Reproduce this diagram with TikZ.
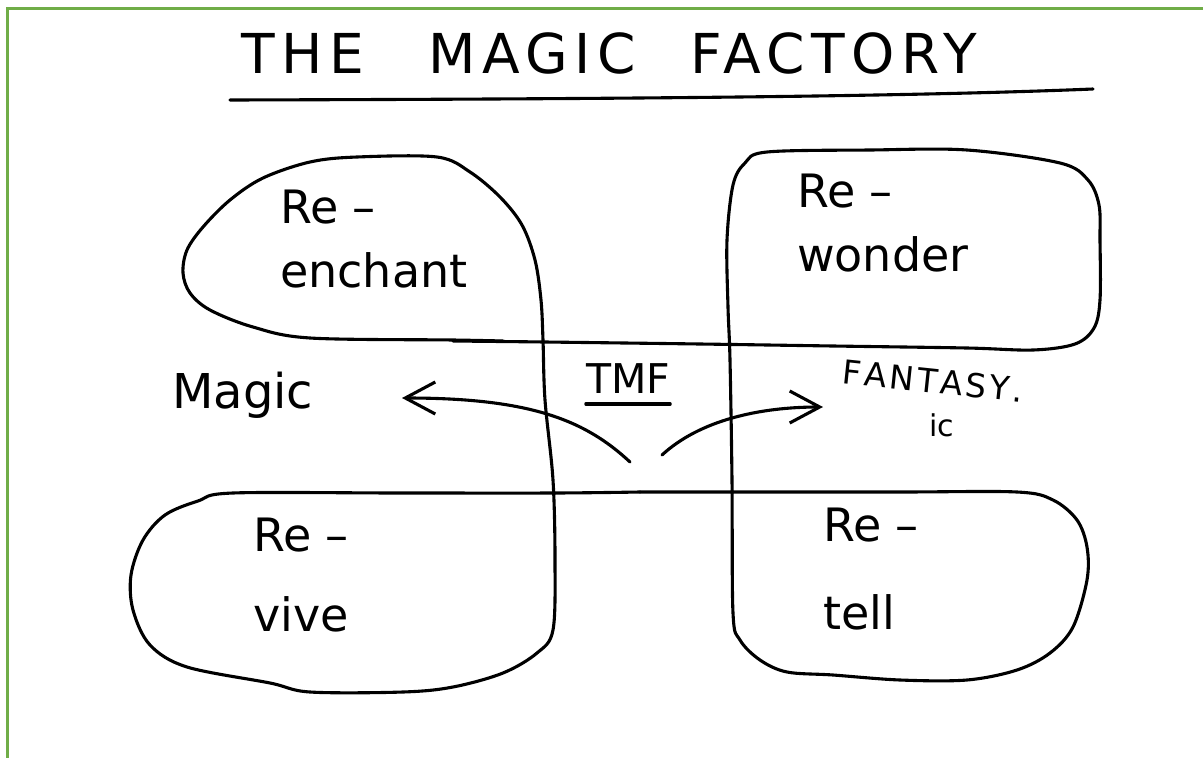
\documentclass[tikz,border=0pt]{standalone}
\usepackage{fontspec}
\setmainfont{DejaVu Sans}
\usetikzlibrary{arrows.meta}
\definecolor{framegreen}{RGB}{112,173,71}

\begin{document}
\begin{tikzpicture}[x=1pt,y=-1pt,
  ink/.style={line width=3.1pt, line join=round, line cap=round},
  arr/.style={ink, -{Straight Barb[length=30pt,width=32pt]}},
  lbl/.style={inner sep=0pt, anchor=north west, align=left, font=\fontsize{46}{64}\selectfont}]
\useasboundingbox (0,0) rectangle (1203,758);
\draw [line width=3pt, framegreen] (7,758) -- (7,8) -- (1203,8);

% title
\node [inner sep=0pt, anchor=base, font=\fontsize{55}{60}\selectfont\addfontfeatures{LetterSpace=12}] (title) at (609,73) {THE\hspace{40pt} MAGIC\hspace{30pt} FACTORY};
\draw [ink] (230,100) .. controls (600,99) and (900,97) .. (1093,89);

% left half: Re-vive, the middle stroke, Re-enchant
\draw [ink] plot [smooth, tension=0.55] coordinates {(640,492) (555,493) (400,493) (233,493) (198,501) (165,515) (143,540) (131,575) (133,610) (150,645) (187,667) (270,683) (310,692) (403,692) (453,687) (503,673) (537,653) (553,630) (555,560) (553,480) (545,400) (543,340) (541,300) (535,260) (522,225) (500,197) (470,172) (437,157) (357,157) (310,162) (263,178) (230,200) (203,227) (187,250) (183,273) (190,293) (210,310) (253,327) (310,338) (453,340) (503,341)};
% right half: Re-tell, the middle stroke, Re-wonder
\draw [ink] plot [smooth, tension=0.55] coordinates {(640,492) (733,492) (900,492) (1017,492) (1053,500) (1077,520) (1087,547) (1087,580) (1073,627) (1050,653) (1017,670) (967,680) (900,680) (833,675) (787,672) (760,660) (740,640) (733,613) (732,480) (730,360) (728,307) (727,240) (733,185) (745,163) (767,152) (870,150) (967,150) (1060,163) (1088,180) (1099,205) (1100,240) (1100,300) (1094,328) (1075,344) (1033,350) (967,348) (833,346) (700,344) (545,342) (453,341)};

\node [lbl] (enchant) at (280,190) {Re –\\enchant};
\node [lbl] (wonder) at (797,174) {Re –\\wonder};
\node [lbl] (vive) at (253,518) {Re –\\[16pt]vive};
\node [lbl] (tell) at (823,508) {Re –\\[24pt]tell};

% middle row
\node [inner sep=0pt, anchor=base west, font=\fontsize{48}{50}\selectfont] (magic) at (172,408) {Magic};
\node [inner sep=0pt, anchor=base, font=\fontsize{41}{44}\selectfont] (tmf) at (628,393) {TMF};
\draw [ink] ([yshift=-11pt]tmf.base west) -- ([yshift=-11pt]tmf.base east);
\node [inner sep=0pt, rotate=-6, font=\fontsize{33}{35}\selectfont\addfontfeatures{LetterSpace=9,Kerning=Off}] (fant) at (933,381) {FANTASY.};
\node [inner sep=0pt, font=\fontsize{30}{32}\selectfont] (ic) at (942,425) {ic};

\coordinate (hubL) at (630,462);
\coordinate (hubR) at (662,455);
\coordinate (magicTip) at (402,398);
\coordinate (fantTip) at (823,407);
\draw [arr] (hubL) .. controls (585,420) and (530,398) .. (magicTip);
\draw [arr] (hubR) .. controls (700,420) and (760,407) .. (fantTip);
\end{tikzpicture}
\end{document}
